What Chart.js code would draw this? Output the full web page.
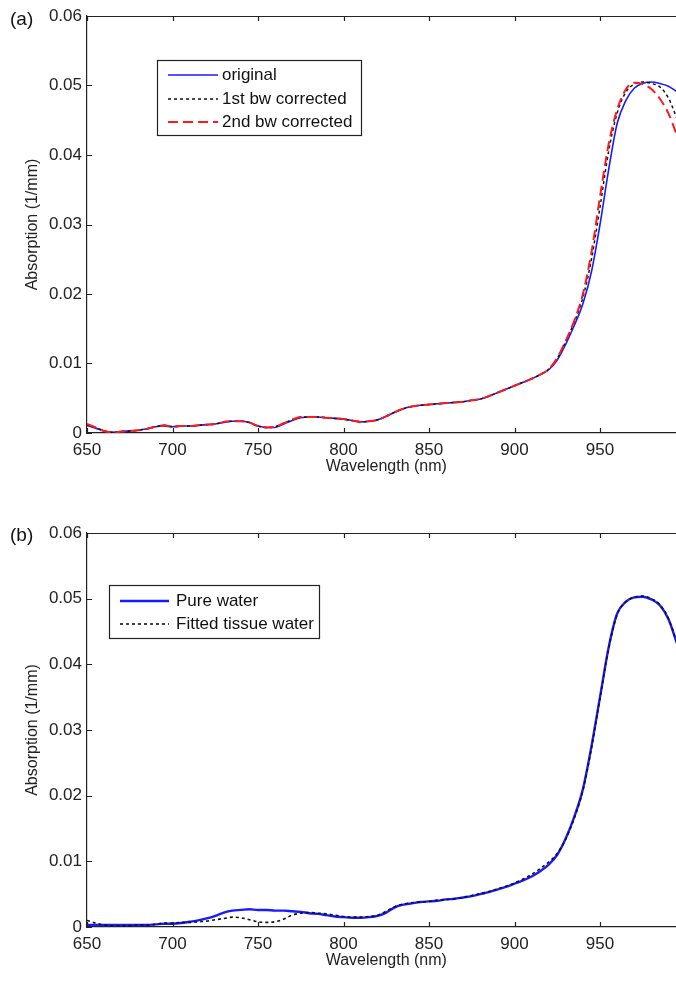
<!DOCTYPE html>
<html>
<head>
<meta charset="utf-8">
<script src="https://cdn.jsdelivr.net/npm/chart.js@4.4.0/dist/chart.umd.min.js"></script>
<style>
  html, body { margin: 0; padding: 0; background: #fff; overflow: hidden; width: 676px; height: 982px; }
  .panel { position: absolute; left: 0; width: 700px; }
  #wrapA { top: 0; height: 480px; }
  #wrapB { top: 500px; height: 474px; }
</style>
</head>
<body>
<div class="panel" id="wrapA"><canvas id="chartA"></canvas></div>
<div class="panel" id="wrapB"><canvas id="chartB"></canvas></div>
<script>
// wavelengths (nm), shared by every series
const wavelengths = [
  650, 655, 660, 665, 670, 675, 680, 685, 690, 695,
  700, 705, 710, 715, 720, 725, 730, 735, 740, 745,
  750, 755, 760, 765, 770, 775, 780, 785, 790, 795,
  800, 805, 810, 815, 820, 825, 830, 835, 840, 845,
  850, 855, 860, 865, 870, 875, 880, 885, 890, 895,
  900, 905, 910, 915, 920, 925, 930, 935, 940, 945,
  950, 955, 960, 965, 970, 975, 980, 985, 990, 995, 1000
];

// panel (a)
const original = [
  .0011, .0007, .0003, .0001, .0002, .0003, .0004, .0006, .0009, .0010,
  .0009, .0010, .0010, .0011, .0012, .0013, .0015, .0017, .0017, .0015,
  .0010, .0008, .0008, .0013, .0018, .0022, .0023, .0023, .0022, .0021,
  .0020, .0018, .0016, .0017, .0019, .0024, .0030, .0035, .0038, .0040,
  .0041, .0042, .0043, .0044, .0045, .0047, .0049, .0053, .0058, .0063,
  .0068, .0073, .0078, .0084, .0091, .0105, .0128, .0155, .0186, .0232,
  .0300, .0378, .0445, .0478, .0496, .0503, .0505, .0503, .0499, .0491, .0482
];
const bwCorrected1 = [
  .0012, .0008, .0003, .0001, .0002, .0003, .0004, .0006, .0009, .0011,
  .0009, .0010, .0010, .0011, .0012, .0013, .0016, .0017, .0017, .0015,
  .0010, .0008, .0009, .0014, .0019, .0023, .0023, .0023, .0022, .0021,
  .0020, .0018, .0016, .0017, .0019, .0024, .0030, .0035, .0038, .0040,
  .0041, .0042, .0043, .0044, .0045, .0047, .0049, .0053, .0058, .0063,
  .0068, .0073, .0078, .0084, .0092, .0107, .0132, .0160, .0195, .0250,
  .0325, .0405, .0460, .0490, .0502, .0505, .0503, .0498, .0482, .0452, .0418
];
const bwCorrected2 = [
  .0013, .0008, .0003, .0001, .0002, .0003, .0004, .0006, .0009, .0011,
  .0009, .0010, .0010, .0011, .0012, .0013, .0016, .0017, .0017, .0015,
  .0010, .0008, .0009, .0014, .0019, .0023, .0023, .0023, .0022, .0021,
  .0020, .0018, .0016, .0017, .0019, .0024, .0030, .0035, .0038, .0040,
  .0041, .0042, .0043, .0044, .0045, .0047, .0049, .0053, .0058, .0063,
  .0068, .0073, .0078, .0084, .0092, .0108, .0133, .0162, .0200, .0260,
  .0340, .0415, .0465, .0494, .0504, .0502, .0495, .0481, .0460, .0428, .0392
];

// panel (b)
const pureWater = [
  .0003, .0003, .0003, .0003, .0003, .0003, .0003, .0003, .0004, .0005,
  .0005, .0006, .0008, .0010, .0013, .0017, .0022, .0025, .0026, .0027,
  .0026, .0026, .0025, .0025, .0024, .0023, .0021, .0020, .0018, .0016,
  .0015, .0014, .0014, .0015, .0017, .0022, .0030, .0034, .0036, .0038,
  .0039, .0040, .0042, .0043, .0045, .0047, .0050, .0053, .0057, .0061,
  .0066, .0071, .0077, .0085, .0095, .0110, .0135, .0168, .0210, .0275,
  .0350, .0425, .0477, .0495, .0502, .0503, .0499, .0490, .0469, .0432, .0395
];
const fittedTissue = [
  .0010, .0006, .0003, .0002, .0002, .0002, .0003, .0003, .0004, .0006,
  .0006, .0007, .0007, .0008, .0009, .0011, .0013, .0015, .0014, .0011,
  .0008, .0007, .0008, .0012, .0018, .0021, .0022, .0021, .0020, .0018,
  .0016, .0015, .0015, .0016, .0018, .0024, .0031, .0035, .0037, .0038,
  .0039, .0041, .0042, .0043, .0045, .0048, .0051, .0054, .0058, .0062,
  .0067, .0073, .0080, .0089, .0099, .0112, .0134, .0166, .0208, .0272,
  .0348, .0423, .0476, .0495, .0502, .0504, .0500, .0491, .0470, .0433, .0397
];

const FONT = '"Liberation Sans", Arial, sans-serif';
const INK = '#222';

const pts = vals => wavelengths.map((x, i) => ({ x: x, y: vals[i] }));

// frame: top border + inward tick marks like the original figure
const frame = {
  id: 'frame',
  afterDraw(chart) {
    const { ctx, chartArea: a, scales: { x, y } } = chart;
    ctx.save();
    ctx.strokeStyle = INK;
    ctx.lineWidth = 1.2;
    ctx.beginPath();
    ctx.moveTo(a.left, a.top + 0.5);
    ctx.lineTo(a.right, a.top + 0.5);
    ctx.lineTo(a.right, a.bottom);
    x.ticks.forEach(t => {
      const px = Math.round(x.getPixelForValue(t.value)) + 0.5;
      ctx.moveTo(px, a.bottom); ctx.lineTo(px, a.bottom - 5);
      ctx.moveTo(px, a.top); ctx.lineTo(px, a.top + 5);
    });
    y.ticks.forEach(t => {
      const py = Math.round(y.getPixelForValue(t.value)) + 0.5;
      ctx.moveTo(a.left, py); ctx.lineTo(a.left + 5, py);
    });
    ctx.stroke();
    ctx.restore();
  }
};

const boxLegend = {
  id: 'boxLegend',
  afterDraw(chart, args, o) {
    const ctx = chart.ctx;
    ctx.save();
    ctx.fillStyle = '#fff';
    ctx.fillRect(o.x, o.y, o.w, o.h);
    ctx.strokeStyle = INK;
    ctx.lineWidth = 1.2;
    ctx.strokeRect(o.x + 0.5, o.y + 0.5, o.w, o.h);
    ctx.font = '17px ' + FONT;
    ctx.textBaseline = 'middle';
    chart.data.datasets.forEach((ds, i) => {
      const ry = o.rows[i];
      ctx.strokeStyle = ds.borderColor;
      ctx.lineWidth = ds.borderWidth;
      ctx.setLineDash(ds.borderDash || []);
      ctx.beginPath();
      ctx.moveTo(o.x + 11, ry);
      ctx.lineTo(o.x + 11 + o.sample, ry);
      ctx.stroke();
      ctx.setLineDash([]);
      ctx.fillStyle = '#111';
      ctx.fillText(ds.label, o.textX, ry);
    });
    ctx.restore();
  }
};

const panelLabel = {
  id: 'panelLabel',
  afterDraw(chart, args, o) {
    const ctx = chart.ctx;
    ctx.save();
    ctx.font = '19px ' + FONT;
    ctx.fillStyle = '#111';
    ctx.textBaseline = 'middle';
    ctx.fillText(o.text, o.x, o.y);
    ctx.restore();
  }
};

function makeChart(id, datasets, padTop, label, legend) {
  return new Chart(document.getElementById(id), {
    type: 'line',
    data: { datasets: datasets },
    plugins: [frame, boxLegend, panelLabel],
    options: {
      responsive: true,
      maintainAspectRatio: false,
      animation: false,
      layout: { padding: { top: padTop, right: 14.5, left: 0, bottom: 0 } },
      elements: { point: { radius: 0 }, line: { cubicInterpolationMode: 'monotone' } },
      scales: {
        x: {
          type: 'linear', min: 650, max: 1000,
          ticks: {
            stepSize: 50, padding: 7, color: INK, maxRotation: 0, autoSkip: false,
            font: { family: FONT, size: 17 },
            callback: v => (v >= 1000 ? '' : v)
          },
          grid: { display: false, drawTicks: false, tickLength: 0 },
          border: { display: true, color: INK, width: 1.2 },
          title: { display: true, text: 'Wavelength (nm)', color: INK, font: { family: FONT, size: 16 }, padding: { top: 0, bottom: 4 } },
          afterFit: s => { s.height = 47; }
        },
        y: {
          min: 0, max: 0.06,
          ticks: {
            stepSize: 0.01, padding: 5, color: INK,
            font: { family: FONT, size: 17 },
            callback: v => (v === 0 ? '0' : v.toFixed(2))
          },
          grid: { display: false, drawTicks: false, tickLength: 0 },
          border: { display: true, color: INK, width: 1.2 },
          title: { display: true, text: 'Absorption (1/mm)', color: INK, font: { family: FONT, size: 16 }, padding: { top: 23, bottom: 0 } },
          afterFit: s => { s.width = 87; }
        }
      },
      plugins: {
        legend: { display: false },
        tooltip: { enabled: false },
        boxLegend: legend,
        panelLabel: label
      }
    }
  });
}

makeChart('chartA', [
  { label: 'original', data: pts(original), borderColor: '#1a1aff', borderWidth: 1.6, order: 3 },
  { label: '1st bw corrected', data: pts(bwCorrected1), borderColor: '#111', borderWidth: 1.5, borderDash: [3, 3], order: 2 },
  { label: '2nd bw corrected', data: pts(bwCorrected2), borderColor: '#ff1a1a', borderWidth: 2, borderDash: [10, 5], order: 1 }
], 16, { text: '(a)', x: 10, y: 20 },
  { x: 157, y: 60, w: 204, h: 75, rows: [75, 99, 122], sample: 50, textX: 222 });

makeChart('chartB', [
  { label: 'Pure water', data: pts(pureWater), borderColor: '#1a1aff', borderWidth: 2.4, order: 2 },
  { label: 'Fitted tissue water', data: pts(fittedTissue), borderColor: '#111', borderWidth: 1.6, borderDash: [3, 3], order: 1 }
], 33, { text: '(b)', x: 10, y: 36 },
  { x: 109, y: 85, w: 210, h: 53, rows: [101, 124], sample: 49, textX: 176 });
</script>
</body>
</html>
